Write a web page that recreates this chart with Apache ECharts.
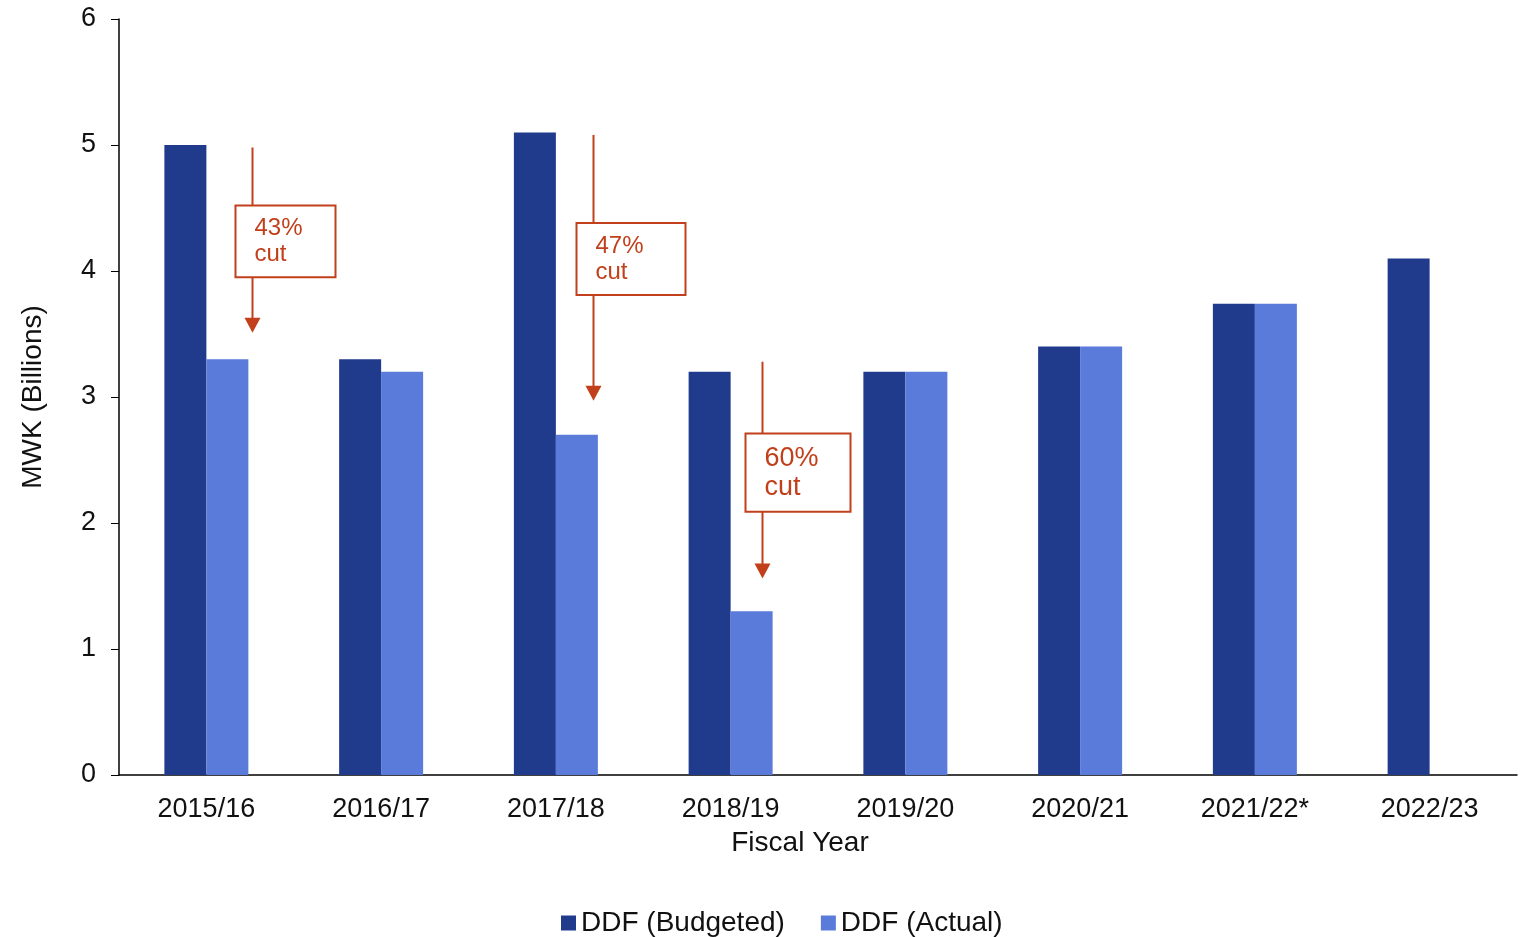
<!DOCTYPE html>
<html>
<head>
<meta charset="utf-8">
<script src="https://cdn.jsdelivr.net/npm/echarts@6/dist/echarts.min.js"></script>
<style>
  html, body { margin: 0; padding: 0; background: #fff; }
  #main { width: 1524px; height: 937px; }
</style>
</head>
<body>
<div id="main"></div>
<script>
// data
var years = ['2015/16', '2016/17', '2017/18', '2018/19', '2019/20', '2020/21', '2021/22*', '2022/23'];
var budgeted = [5.0, 3.3, 5.1, 3.2, 3.2, 3.4, 3.74, 4.1];
var actual = [3.3, 3.2, 2.7, 1.3, 3.2, 3.4, 3.74, '-'];

// cut annotations: arrow from/to values, box top/bottom values
var cutCats = ['2015/16', '2017/18', '2018/19'];
var cutLabels = ['43%\ncut', '47%\ncut', '60%\ncut'];
var cutFrom = [4.98, 5.08, 3.28];
var cutTo = [3.51, 2.97, 1.56];
var boxTop = [4.52, 4.38, 2.71];
var boxBottom = [3.95, 3.81, 2.09];

var red = '#C1401B';
var font = '"Liberation Sans", Arial, sans-serif';

var myChart = echarts.init(document.getElementById('main'));

myChart.setOption({
    animation: false,
    textStyle: { fontFamily: font },
    grid: { left: 119, right: 7, top: 19, bottom: 162 },
    legend: {
        top: 904,
        left: 556,
        itemWidth: 15,
        itemHeight: 15,
        itemGap: 36,
        icon: 'rect',
        textStyle: { fontSize: 28, color: '#111', fontFamily: font },
        data: ['DDF (Budgeted)', 'DDF (Actual)']
    },
    xAxis: {
        type: 'category',
        data: years,
        name: 'Fiscal Year',
        nameLocation: 'middle',
        nameGap: 54,
        nameTextStyle: { fontSize: 28, color: '#111', padding: [0, 36, 0, 0] },
        axisLine: { lineStyle: { color: '#000', width: 1.5 } },
        axisTick: { show: false },
        axisLabel: { fontSize: 27, color: '#111', margin: 21 }
    },
    yAxis: {
        type: 'value',
        min: 0,
        max: 6,
        interval: 1,
        name: 'MWK (Billions)',
        nameLocation: 'middle',
        nameGap: 72,
        nameTextStyle: { fontSize: 28, color: '#111' },
        axisLine: { show: true, lineStyle: { color: '#000', width: 1.5 } },
        axisTick: { show: true, length: 8, lineStyle: { color: '#000' } },
        axisLabel: { fontSize: 27, color: '#111', margin: 23 },
        splitLine: { show: false }
    },
    series: [
        {
            name: 'DDF (Budgeted)',
            type: 'bar',
            data: budgeted,
            barWidth: 42,
            barGap: '0%',
            itemStyle: { color: '#203A8C' }
        },
        {
            name: 'DDF (Actual)',
            type: 'bar',
            data: actual,
            barWidth: 42,
            itemStyle: { color: '#5B7BDB' }
        }
    ]
});

// annotation boxes and arrows, placed through the chart's own scales
var band = myChart.convertToPixel({ xAxisIndex: 0 }, years[1]) - myChart.convertToPixel({ xAxisIndex: 0 }, years[0]);
var shifts = [0.26, 0.21, 0.18];
var boxW = [100, 109, 105];
var fontSizes = [24, 24, 27];
var graphics = [];
cutCats.forEach(function (c, i) {
    var x = Math.round(myChart.convertToPixel({ xAxisIndex: 0 }, c) + shifts[i] * band) + 0.5;
    var y0 = myChart.convertToPixel({ yAxisIndex: 0 }, cutFrom[i]);
    var y1 = myChart.convertToPixel({ yAxisIndex: 0 }, cutTo[i]);
    var bt = myChart.convertToPixel({ yAxisIndex: 0 }, boxTop[i]);
    var bb = myChart.convertToPixel({ yAxisIndex: 0 }, boxBottom[i]);
    var bx = x - 17;
    graphics.push({
        type: 'line',
        shape: { x1: x, y1: y0, x2: x, y2: y1 - 14 },
        style: { stroke: red, lineWidth: 2 }
    });
    graphics.push({
        type: 'polygon',
        shape: { points: [[x - 8, y1 - 15], [x + 8, y1 - 15], [x, y1]] },
        style: { fill: red }
    });
    graphics.push({
        type: 'rect',
        shape: { x: bx, y: bt, width: boxW[i], height: bb - bt },
        style: { fill: '#fff', stroke: red, lineWidth: 2 }
    });
    graphics.push({
        type: 'text',
        x: bx + 19,
        y: (bt + bb) / 2,
        style: {
            text: cutLabels[i],
            fill: red,
            font: fontSizes[i] + 'px ' + font,
            lineHeight: fontSizes[i] + 2,
            verticalAlign: 'middle',
            align: 'left'
        }
    });
});
myChart.setOption({ graphic: graphics });
</script>
</body>
</html>
